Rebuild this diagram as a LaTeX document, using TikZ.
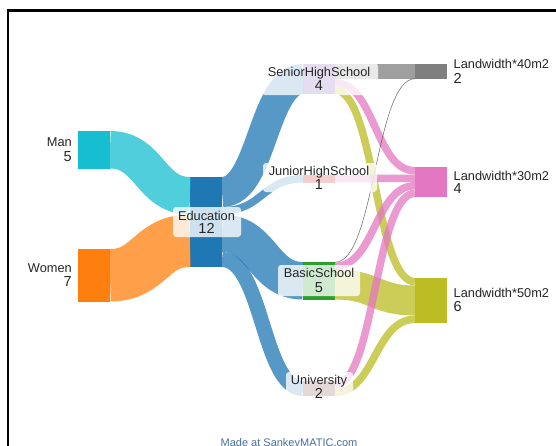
\documentclass[tikz,border=0pt]{standalone}
\usepackage{fontspec}
\setmainfont{Liberation Sans}
\usetikzlibrary{calc}
\definecolor{cMan}{HTML}{17BECF}
\definecolor{cWom}{HTML}{FF7F0E}
\definecolor{cEdu}{HTML}{1F77B4}
\definecolor{cSen}{HTML}{9467BD}
\definecolor{cJun}{HTML}{D62728}
\definecolor{cBas}{HTML}{2CA02C}
\definecolor{cUni}{HTML}{8C564B}
\definecolor{cL40}{HTML}{7F7F7F}
\definecolor{cL30}{HTML}{E377C2}
\definecolor{cL50}{HTML}{BCBD22}
\definecolor{cMade}{HTML}{4A6F9C}
\newcommand\sflow[6]{%
  \draw[#1, draw opacity=0.75, line width=#6pt] let \p1=($(#2.north east)+(0,{#3+#6/2})$), \p2=($(#4.north west)+(0,{#5+#6/2})$) in
  (\p1) .. controls ({(\x1+\x2)/2},\y1) and ({(\x1+\x2)/2},\y2) .. (\p2);}
\tikzset{
  nodebox/.style={rectangle, draw=none, inner sep=0pt, outer sep=0pt, minimum width=32pt, anchor=north west},
  namelbl/.style={inner sep=0pt, font=\fontsize{12.8}{12.8}\selectfont, text=black!85},
  numlbl/.style={inner sep=0pt, font=\fontsize{14.5}{14.5}\selectfont, text=black!85},
  lblbg/.style={fill=white, fill opacity=0.78, rounded corners=3pt}
}
\begin{document}
\begin{tikzpicture}[x=1pt, y=-1pt]
\fill[white] (0,0) rectangle (556,445);
\useasboundingbox (0,0) rectangle (556,445);
% frame
\draw[black, line width=2.5pt] (8,448) -- (8,10.5) -- (560,10.5);
% nodes
\node[nodebox, fill=cMan, minimum height=37.5pt] (man) at (78,131) {};
\node[nodebox, fill=cWom, minimum height=52.5pt] (women) at (78,249) {};
\node[nodebox, fill=cEdu, minimum height=90pt] (edu) at (190,177) {};
\node[nodebox, fill=cSen, minimum height=30pt] (sen) at (303,64) {};
\node[nodebox, fill=cJun, minimum height=7.5pt] (jun) at (303,175) {};
\node[nodebox, fill=cBas, minimum height=37.5pt] (bas) at (303,262) {};
\node[nodebox, fill=cUni, minimum height=15pt] (uni) at (303,381) {};
\node[nodebox, fill=cL40, minimum height=15pt] (l40) at (415,64) {};
\node[nodebox, fill=cL30, minimum height=30pt] (l30) at (415,167) {};
\node[nodebox, fill=cL50, minimum height=45pt] (l50) at (415,278) {};
% flows
\sflow{cMan}{man}{0}{edu}{0}{37.5}
\sflow{cWom}{women}{0}{edu}{37.5}{52.5}
\sflow{cEdu}{edu}{0}{sen}{0}{30}
\sflow{cEdu}{edu}{30}{jun}{0}{7.5}
\sflow{cEdu}{edu}{37.5}{bas}{0}{37.5}
\sflow{cEdu}{edu}{75}{uni}{0}{15}
\sflow{cL40}{sen}{0}{l40}{0}{15}
\sflow{cL30}{sen}{15}{l30}{0}{7.5}
\sflow{cL50}{sen}{22.5}{l50}{0}{7.5}
\sflow{cL30}{jun}{0}{l30}{7.5}{7.5}
\sflow{cL50}{bas}{7.5}{l50}{7.5}{30}
\sflow{cL30}{bas}{0.6}{l30}{15}{7.5}
\sflow{cL50}{uni}{7.5}{l50}{37.5}{7.5}
\sflow{cL30}{uni}{0}{l30}{22.5}{7.5}
\sflow{black!70}{bas}{0}{l40}{14.4}{0.6}
% label backgrounds
\fill[lblbg] (173,207) rectangle (241,237);
\fill[lblbg] (262,63) rectangle (378,95);
\fill[lblbg] (263,163) rectangle (377,192);
\fill[lblbg] (278,265) rectangle (360,296);
\fill[lblbg] (286,372) rectangle (353,398);
% labels
\node[namelbl, anchor=base east] (tman) at (72,146.7) {Man};
\node[numlbl, anchor=base east] (nman) at (72,161.2) {5};
\node[namelbl, anchor=base east] (twom) at (72,272.7) {Women};
\node[numlbl, anchor=base east] (nwom) at (72,286.2) {7};
\node[namelbl, anchor=base] (tedu) at (206.5,220.5) {Education};
\node[numlbl, anchor=base] (nedu) at (206.5,233.5) {12};
\node[namelbl, anchor=base] (tsen) at (319,76.5) {SeniorHighSchool};
\node[numlbl, anchor=base] (nsen) at (319,90.5) {4};
\node[namelbl, anchor=base] (tjun) at (319,175.5) {JuniorHighSchool};
\node[numlbl, anchor=base] (njun) at (319,189.5) {1};
\node[namelbl, anchor=base] (tbas) at (319,277.5) {BasicSchool};
\node[numlbl, anchor=base] (nbas) at (319,292.5) {5};
\node[namelbl, anchor=base] (tuni) at (319,384.5) {University};
\node[numlbl, anchor=base] (nuni) at (319,398.5) {2};
\node[namelbl, anchor=base west] (t40) at (453.5,68.5) {Landwidth*40m2};
\node[numlbl, anchor=base west] (n40) at (453.5,83.5) {2};
\node[namelbl, anchor=base west] (t30) at (453.5,180.5) {Landwidth*30m2};
\node[numlbl, anchor=base west] (n30) at (453.5,193.5) {4};
\node[namelbl, anchor=base west] (t50) at (453.5,297.5) {Landwidth*50m2};
\node[numlbl, anchor=base west] (n50) at (453.5,311.5) {6};
\node[inner sep=0pt, anchor=base, font=\fontsize{11}{11}\selectfont, text=cMade] (made) at (289,446) {Made at SankeyMATIC.com};
\end{tikzpicture}
\end{document}
